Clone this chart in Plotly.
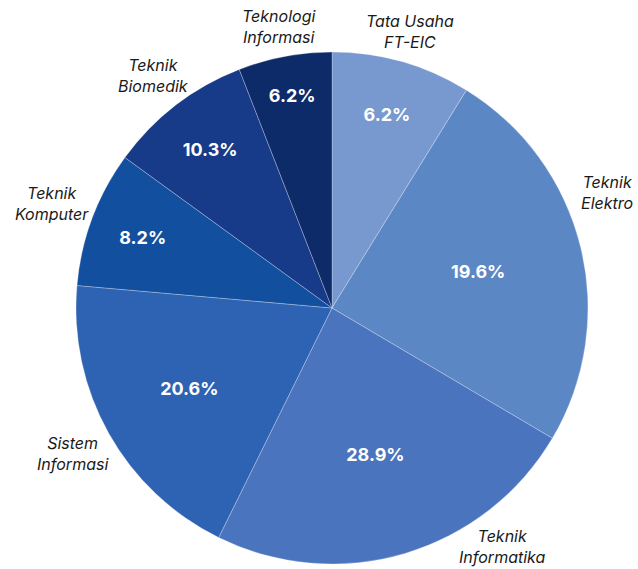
import math
import plotly.graph_objects as go

# slices clockwise from 12 o'clock; sizes,
# the printed percentages are the chart's own labels
labels = ["Tata Usaha<br>FT-EIC", "Teknik<br>Elektro", "Teknik<br>Informatika", "Sistem<br>Informasi",
          "Teknik<br>Komputer", "Teknik<br>Biomedik", "Teknologi<br>Informasi"]
values = [8.8, 24.7, 23.8, 19.1, 8.6, 9.1, 5.9]
pct_text = ["6.2%", "19.6%", "28.9%", "20.6%", "8.2%", "10.3%", "6.2%"]
colors = ["#7799cf", "#5c87c5", "#4a74be", "#2e62b2", "#134f9f", "#173b89", "#0d2a69"]

font_name = "Inter, Roboto, sans-serif"
W, H = 638, 569
L, R, T, B = 76, 50, 52, 5
side = W - L - R  # square plot area, pie fills it
label_size = 16

pie = go.Pie(labels=labels, values=values, sort=False, direction="clockwise", rotation=0,
             marker=dict(colors=colors, line=dict(color="rgba(255,255,255,0.45)", width=0.6)),
             text=pct_text, texttemplate="%{text}", textposition="inside", insidetextorientation="horizontal",
             textfont=dict(family=font_name, size=18, color="white", weight="bold"),
             showlegend=False, hoverinfo="label")

fig = go.Figure(data=[pie])

# category labels just outside the rim at each slice's middle angle,
# turned back along the rim when they would run off the page
total = sum(values)
radius = side / 2
start = 0.0
for lab, v in zip(labels, values):
    a0 = start / total * 360
    a1 = (start + v) / total * 360
    start += v
    lines = lab.split("<br>")
    half_w = max(len(s) for s in lines) * label_size * 0.55 / 2
    half_top, half_bot = 16, 22
    ang = (a0 + a1) / 2
    while True:
        s, c = math.sin(math.radians(ang)), math.cos(math.radians(ang))
        dist = radius * (1.105 + 0.066 * abs(s))  # wide labels sit a bit further out at the sides
        px = radius + dist * s
        py = radius - dist * c
        fits = -L <= px - half_w and px + half_w <= side + R and -T <= py - half_top and py + half_bot <= side + B
        if fits or ang <= a0:
            break
        ang -= 0.5
    fig.add_annotation(x=px / side, y=1 - py / side, xref="paper", yref="paper", text=lab,
                       showarrow=False, xanchor="center", yanchor="middle", align="center",
                       font=dict(family=font_name, size=label_size, color="#1a1a1a", style="italic"))

fig.update_layout(width=W, height=H, margin=dict(l=L, r=R, t=T, b=B),
                  paper_bgcolor="white", plot_bgcolor="white")
# drop the default page margin so the figure fills the window exactly
fig.write_html("out.html", config={"displayModeBar": False},
               post_script="document.body.style.margin='0';document.body.style.overflow='hidden';")
